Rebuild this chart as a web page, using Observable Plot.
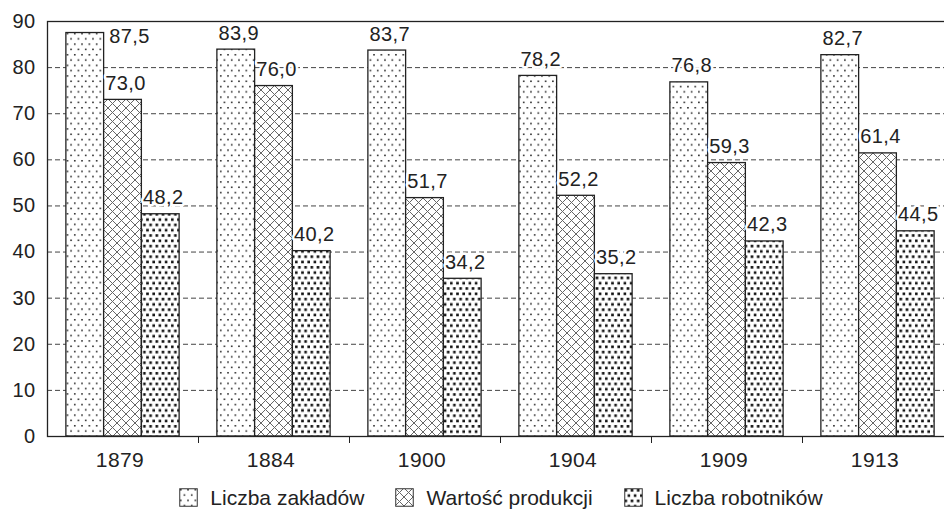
<!DOCTYPE html>
<html>
<head>
<meta charset="utf-8">
<script src="https://cdn.jsdelivr.net/npm/d3@7"></script>
<script src="https://cdn.jsdelivr.net/npm/@observablehq/plot@0.6"></script>
<style>
  html, body { margin: 0; padding: 0; background: #fff; overflow: hidden; }
  #wrap { width: 960px; font-family: "Liberation Sans", Arial, sans-serif; color: #222; }
  #legend { display: flex; justify-content: center; align-items: center; gap: 31px; height: 33px; padding-top: 3px; font-size: 21px; padding-left: 42px; }
  #legend .item { display: flex; align-items: center; gap: 12px; }
  #legend svg { display: block; }
</style>
</head>
<body>
<div id="wrap"><div id="chart"></div><div id="legend"></div></div>
<script>
// ---- data ----
const years = ["1879", "1884", "1900", "1904", "1909", "1913"];
const seriesNames = ["Liczba zakładów", "Wartość produkcji", "Liczba robotników"];
const liczbaZakladow = [87.5, 83.9, 83.7, 78.2, 76.8, 82.7];
const wartoscProdukcji = [73.0, 76.0, 51.7, 52.2, 59.3, 61.4];
const liczbaRobotnikow = [48.2, 40.2, 34.2, 35.2, 42.3, 44.5];
const yTicks = [0, 10, 20, 30, 40, 50, 60, 70, 80, 90];

const seriesValues = [liczbaZakladow, wartoscProdukcji, liczbaRobotnikow];
const patternIds = ["pat-dots", "pat-cross", "pat-heavy"];

// rows: each bar occupies a quarter of its year's band, centred group
const rows = [];
seriesValues.forEach((vals, j) => {
  vals.forEach((v, i) => {
    const x1 = i + 0.125 + 0.25 * j;
    rows.push({i, j, year: years[i], series: seriesNames[j], value: v, x1, x2: x1 + 0.25});
  });
});
const fmt = v => v.toFixed(1).replace(".", ",");
const yMax = yTicks[yTicks.length - 1];
const tooTall = d => d.value > yMax * 0.95;

const font = '"Liberation Sans", Arial, sans-serif';

const marks = [
  Plot.gridY(yTicks.filter(v => v > 0 && v < yMax), {stroke: "#444", strokeOpacity: 1, strokeDasharray: "5,3", strokeWidth: 1}),
];
seriesNames.forEach((s, j) => {
  marks.push(Plot.rectY(rows.filter(d => d.j === j), {
    x1: "x1", x2: "x2", y1: 0, y2: "value",
    fill: `url(#${patternIds[j]})`, stroke: "#222", strokeWidth: 1.3
  }));
});
marks.push(
  Plot.frame({stroke: "#222", strokeWidth: 1.3}),
  Plot.axisY({ticks: yTicks, tickSize: 0, tickPadding: 12, fontSize: 20, label: null}),
  Plot.axisX({ticks: years.map((d, i) => i + 0.5), tickFormat: v => years[Math.floor(v)], tickSize: 0, tickPadding: 16, fontSize: 21, dx: -3, label: null}),
  Plot.axisX({ticks: years.slice(1).map((d, i) => i + 1), tickFormat: () => "", tickSize: 7, label: null, stroke: "#222"}),
  // regular labels: above bar
  Plot.text(rows.filter(d => !tooTall(d)), {
    x: "x1", y: "value", text: d => fmt(d.value),
    textAnchor: "start", lineAnchor: "bottom", dx: 1, dy: -10,
    fontSize: 20, fill: "#222", stroke: "white", strokeWidth: 5, paintOrder: "stroke"
  }),
  // labels that would cross the top: beside the bar
  Plot.text(rows.filter(tooTall), {
    x: "x2", y: "value", text: d => fmt(d.value),
    textAnchor: "start", lineAnchor: "top", dx: 5, dy: -4,
    fontSize: 20, fill: "#222", stroke: "white", strokeWidth: 5, paintOrder: "stroke"
  })
);

const svg = Plot.plot({
  width: 960,
  height: 478,
  marginLeft: 47,
  marginRight: 7,
  marginTop: 21,
  marginBottom: 42,
  style: {fontFamily: font, fontSize: "20px", color: "#222", background: "white", letterSpacing: "0.4px"},
  x: {type: "linear", domain: [0, years.length], axis: null},
  y: {domain: [0, yMax], axis: null},
  marks
});

// ---- hatch patterns ----
const defs = d3.select(svg).insert("defs", ":first-child");
function pattern(id, w, h, draw) {
  const p = defs.append("pattern").attr("id", id).attr("patternUnits", "userSpaceOnUse")
    .attr("width", w).attr("height", h);
  p.append("rect").attr("width", w).attr("height", h).attr("fill", "white");
  draw(p);
}
pattern("pat-dots", 7.3, 10.6, p => {
  [[1, 1], [4.65, 6.3]].forEach(([x, y]) => p.append("rect").attr("x", x).attr("y", y).attr("width", 1.5).attr("height", 1.5).attr("fill", "#111"));
});
pattern("pat-cross", 9, 9, p => {
  p.append("path").attr("d", "M0,0L9,9M9,0L0,9M-1,8L1,10M8,-1L10,1M-1,1L1,-1M8,10L10,8")
    .attr("stroke", "#666").attr("stroke-width", 1).attr("fill", "none");
});
pattern("pat-heavy", 6.2, 10.6, p => {
  [[0.5, 1], [3.6, 6.3]].forEach(([x, y]) => p.append("rect").attr("x", x).attr("y", y).attr("width", 2.6).attr("height", 2.6).attr("fill", "#111"));
});

document.getElementById("chart").appendChild(svg);

// ---- legend ----
const legend = d3.select("#legend");
seriesNames.forEach((s, j) => {
  const item = legend.append("div").attr("class", "item");
  const sw = item.append("svg").attr("width", 19).attr("height", 19);
  sw.append("rect").attr("x", 0.75).attr("y", 0.75).attr("width", 17.5).attr("height", 17.5)
    .attr("fill", `url(#${patternIds[j]})`).attr("stroke", "#333").attr("stroke-width", 1);
  item.append("span").text(s);
});
</script>
</body>
</html>
